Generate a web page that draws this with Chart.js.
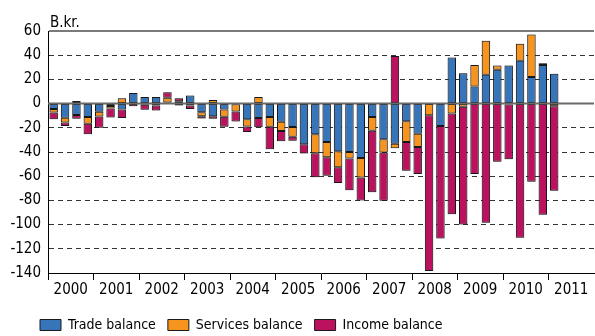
<!DOCTYPE html>
<html>
<head>
<meta charset="utf-8">
<script src="https://cdn.jsdelivr.net/npm/chart.js@4/dist/chart.umd.min.js"></script>
<style>
  html, body { margin: 0; padding: 0; background: #fff; }
</style>
</head>
<body>
<canvas id="balanceChart" width="595" height="336"></canvas>
<script>
const years = ['2000', '2001', '2002', '2003', '2004', '2005', '2006', '2007', '2008', '2009', '2010', '2011'];
const quarters = [];
years.forEach(y => { for (let q = 1; q <= 4; q++) quarters.push(y + ' Q' + q); });

// B.kr., quarterly, 2000 Q1 - 2011 Q1
const tradeBalance = [
  -4.4, -11.7, -9.5, -11, -6.8, -2, -4.9, 8.7, 5.5, 5.5, 1, 2,
  6.6, -7.1, -10.4, -4.9, -0.5, -13, -12, -11, -15, -19.4, -33.6, -25.4,
  -31.7, -39.3, -39.9, -45, -11, -29.5, -33.1, -14.5, -24.9, 0, -18.6, 38,
  25.1, 14.2, 23.8, 27.9, 31.4, 35.5, 21.9, 32, 24.6
];
const servicesBalance = [
  -3, -4, 2.2, -5.7, -3.8, -2, 4.4, 0, -1, -1.6, 3.8, -1.6,
  -1.5, -3.3, 3, -6, -6, -6, 5.5, -8.2, -7.7, -7.9, 0, -15.6,
  -12.6, -13.2, -5.5, -16, -11.5, -11, -3.8, -17.2, -10.9, -9.6, 0, -8.2,
  -2.7, 17.8, 28.1, 3.5, -0.8, 13.9, 35.2, 1.4, -2.2
];
const incomeBalance = [
  -5.5, -2.9, -3, -8.7, -9.3, -7.5, -7.1, -2.2, -4, -4.1, 4.6, 2.5,
  -3, -1.9, -2.2, -8.2, -8.2, -4.4, -7.6, -18.6, -8.5, -3.3, -7.7, -19.9,
  -15.3, -13.1, -26.2, -19, -50.8, -39.7, 39.3, -23.8, -22.4, -128.7, -92.9, -83.3,
  -97.3, -58.2, -98.4, -48.1, -45.1, -110.9, -64.5, -91.8, -69.9
];

const fontFamily = "'DejaVu Sans Condensed', 'Liberation Sans Narrow', 'Open Sans', sans-serif";

const extras = {
  id: 'extras',
  afterLayout(chart) {
    // legend sits left, under the axis labels
    chart.legend.left = 28;
    chart.legend.top += 6;
  },
  beforeDatasetsDraw(chart) {
    const ctx = chart.ctx;
    ctx.save();
    ctx.shadowColor = 'rgba(0,0,0,0.35)';
    ctx.shadowBlur = 2;
  },
  afterDatasetsDraw(chart) {
    const ctx = chart.ctx;
    ctx.restore();
    const area = chart.chartArea;
    const y0 = chart.scales.y.getPixelForValue(0);
    ctx.save();
    ctx.strokeStyle = '#6a6a6a';
    ctx.lineWidth = 2;
    ctx.beginPath();
    ctx.moveTo(area.left, y0);
    ctx.lineTo(area.right, y0);
    ctx.stroke();
    ctx.fillStyle = '#000';
    ctx.font = '15px ' + fontFamily;
    ctx.fillText('B.kr.', area.left + 2, 23);
    ctx.restore();
  }
};

new Chart(document.getElementById('balanceChart'), {
  type: 'bar',
  data: {
    labels: quarters,
    datasets: [
      { label: 'Trade balance', data: tradeBalance, backgroundColor: '#3775bb' },
      { label: 'Services balance', data: servicesBalance, backgroundColor: '#f7941e' },
      { label: 'Income balance', data: incomeBalance, backgroundColor: '#bb115e' }
    ]
  },
  options: {
    responsive: false,
    animation: false,
    layout: { padding: { top: 31, left: 0, right: 1, bottom: 0 } },
    datasets: {
      bar: {
        borderColor: '#1a1a1a',
        borderWidth: 1,
        borderSkipped: false,
        categoryPercentage: 1,
        barPercentage: 0.74
      }
    },
    scales: {
      x: {
        stacked: true,
        offset: true,
        grid: {
          offset: true,
          drawOnChartArea: false,
          drawTicks: true,
          tickLength: 7,
          color: c => c.index % 4 === 0 ? '#000' : 'rgba(0,0,0,0)'
        },
        border: { display: true, color: '#000', width: 1 },
        ticks: {
          autoSkip: false,
          maxRotation: 0,
          labelOffset: 5.7,
          padding: 1,
          color: '#000',
          font: { family: fontFamily, size: 15 },
          callback: (v, i) => i % 4 === 1 ? quarters[i].slice(0, 4) : ''
        }
      },
      y: {
        stacked: true,
        min: -140,
        max: 60,
        ticks: {
          stepSize: 20,
          padding: 7,
          color: '#000',
          font: { family: fontFamily, size: 15 },
          callback: v => String(v)
        },
        grid: {
          drawTicks: false,
          color: c => {
            if (!c.tick) return '#333';
            if (c.tick.value === 60) return '#7a7a7a';
            if (c.tick.value === 0 || c.tick.value === -140) return 'rgba(0,0,0,0)';
            return '#333';
          },
          lineWidth: c => (c.tick && c.tick.value === 60) ? 2 : 1
        },
        border: {
          display: true,
          color: '#000',
          width: 1,
          dash: c => (c.tick && c.tick.value === 60) ? [] : [5, 4]
        },
        afterFit: s => { s.width = 48; }
      }
    },
    plugins: {
      legend: {
        position: 'bottom',
        align: 'start',
        labels: {
          boxWidth: 21,
          boxHeight: 11,
          padding: 12,
          color: '#000',
          font: { family: fontFamily, size: 14 }
        }
      },
      tooltip: { enabled: false }
    }
  },
  plugins: [extras]
});
</script>
</body>
</html>
